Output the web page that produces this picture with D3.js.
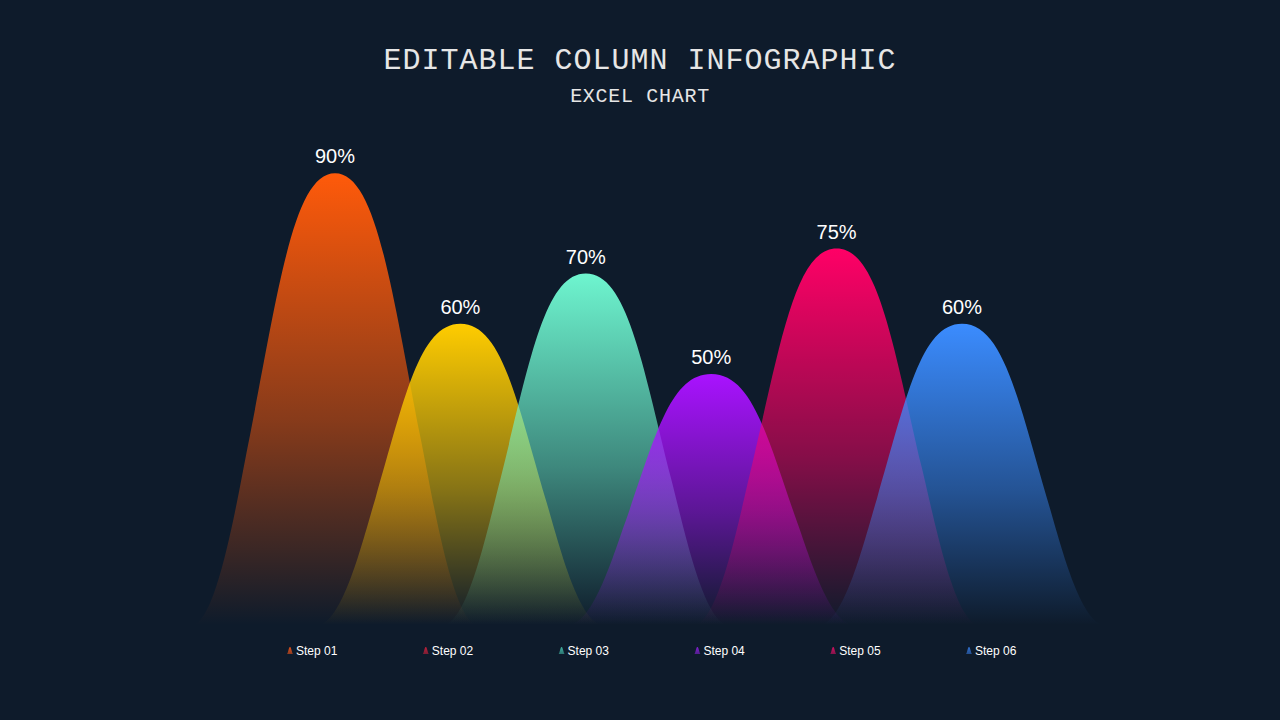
<!DOCTYPE html>
<html><head><meta charset="utf-8">
<script src="https://cdn.jsdelivr.net/npm/d3@7"></script>
<style>html,body{margin:0;padding:0;background:#0e1b2b;}svg{display:block}</style>
</head><body>
<svg id="chart" width="1280" height="720"></svg>
<script>
// ---- data ----
const steps = ["Step 01", "Step 02", "Step 03", "Step 04", "Step 05", "Step 06"];
const values = [90, 60, 70, 50, 75, 60];
const valueLabels = ["90%", "60%", "70%", "50%", "75%", "60%"];
const titleText = "EDITABLE COLUMN INFOGRAPHIC";
const subtitleText = "EXCEL CHART";

// ---- styles ----
const peakColors = ["#ff5a0a", "#ffcc00", "#6ef5cf", "#a912ff", "#ff0066", "#3b8cff"];
const legendColors = ["#e0501a", "#c0203a", "#40b0a0", "#8020d0", "#d01060", "#3070d0"];
const bg = "#0e1b2b";

const svg = d3.select("#chart");
svg.append("rect").attr("width", 1280).attr("height", 720).attr("fill", bg);

const x = d3.scalePoint().domain(steps).range([335, 962]);
const y = d3.scaleLinear().domain([0, 100]).range([625, 123]);

const defs = svg.append("defs");

// bell shape: base half-width hw, height h, center cx, base y0
function bell(cx, y0, h, hw) {
  const k = hw / 142;
  const p = d3.path();
  const X = dx => cx + dx * k;
  const Y = u => y0 - u * h;
  p.moveTo(X(-142), Y(0));
  p.bezierCurveTo(X(-117), Y(0.01), X(-97), Y(0.29), X(-85), Y(0.42));
  p.bezierCurveTo(X(-56), Y(0.75), X(-41), Y(1), X(0), Y(1));
  p.bezierCurveTo(X(41), Y(1), X(56), Y(0.75), X(85), Y(0.42));
  p.bezierCurveTo(X(97), Y(0.29), X(117), Y(0.01), X(142), Y(0));
  p.closePath();
  return p.toString();
}

steps.forEach((s, i) => {
  const g = defs.append("linearGradient").attr("id", "g" + i)
    .attr("x1", 0).attr("y1", 0).attr("x2", 0).attr("y2", 1);
  g.append("stop").attr("offset", "0%").attr("stop-color", peakColors[i]).attr("stop-opacity", 1);
  g.append("stop").attr("offset", "55%").attr("stop-color", peakColors[i]).attr("stop-opacity", 0.5);
  g.append("stop").attr("offset", "100%").attr("stop-color", peakColors[i]).attr("stop-opacity", 0);
  const lg = defs.append("linearGradient").attr("id", "lg" + i)
    .attr("x1", 0).attr("y1", 0).attr("x2", 0).attr("y2", 1);
  lg.append("stop").attr("offset", "0%").attr("stop-color", legendColors[i]).attr("stop-opacity", 1);
  lg.append("stop").attr("offset", "100%").attr("stop-color", legendColors[i]).attr("stop-opacity", 0.6);
});

const y0 = y(0);
const halfW = 142;

svg.append("g").selectAll("path").data(steps).join("path")
  .attr("d", (s, i) => bell(x(s), y0, y0 - y(values[i]), halfW))
  .attr("fill", (s, i) => `url(#g${i})`);

svg.append("g").selectAll("text").data(steps).join("text")
  .attr("x", s => x(s))
  .attr("y", (s, i) => y(values[i]) - 10)
  .attr("text-anchor", "middle")
  .attr("font-family", "'Liberation Sans', Arial, sans-serif")
  .attr("font-size", 20)
  .attr("fill", "#ffffff")
  .text((s, i) => valueLabels[i]);

// title
svg.append("text").attr("x", 640).attr("y", 69).attr("text-anchor", "middle")
  .attr("font-family", "'Liberation Mono', 'Courier New', monospace")
  .attr("font-size", 30).attr("letter-spacing", 1).attr("fill", "#e6e6e6")
  .text(titleText);
svg.append("text").attr("x", 640).attr("y", 102).attr("text-anchor", "middle")
  .attr("font-family", "'Liberation Mono', 'Courier New', monospace")
  .attr("font-size", 20).attr("letter-spacing", 0.7).attr("fill", "#e6e6e6")
  .text(subtitleText);

// legend
const lx = d3.scalePoint().domain(steps).range([290, 969]);
const leg = svg.append("g").selectAll("g").data(steps).join("g")
  .attr("transform", s => `translate(${lx(s)},0)`);
leg.append("path")
  .attr("d", (s, i) => bell(0, 654, 7, 3))
  .attr("fill", (s, i) => `url(#lg${i})`);
leg.append("text").attr("x", 6).attr("y", 655)
  .attr("font-family", "'Liberation Sans', Arial, sans-serif")
  .attr("font-size", 12).attr("fill", "#ffffff")
  .text(s => s);
</script>
</body></html>
